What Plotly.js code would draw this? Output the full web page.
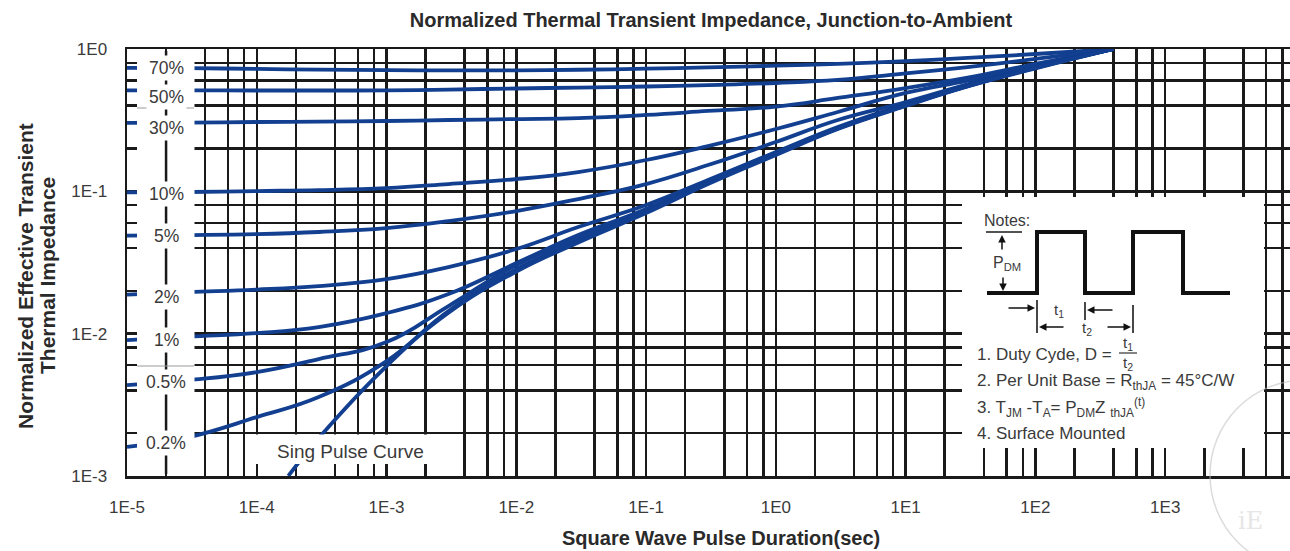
<!DOCTYPE html>
<html><head><meta charset="utf-8">
<script src="https://cdn.plot.ly/plotly-3.0.1.min.js"></script>
<style>html,body{margin:0;padding:0;overflow:hidden;background:#fff}#chart{width:1300px;height:551px}</style>
</head><body><div id="chart"></div><script>
// ---- data ----
const pulseTime = [1e-5,3e-5,1e-4,3e-4,1e-3,3e-3,1e-2,3e-2,1e-1,3e-1,1,3,10,30,100,400];
const duty70 = [0.738,0.733,0.725,0.716,0.710,0.707,0.708,0.715,0.727,0.743,0.763,0.785,0.823,0.865,0.922,1.0];
const duty50 = [0.512,0.512,0.511,0.511,0.512,0.519,0.528,0.536,0.545,0.558,0.577,0.606,0.673,0.747,0.851,1.0];
const duty30 = [0.303,0.304,0.307,0.309,0.312,0.317,0.322,0.327,0.344,0.367,0.394,0.453,0.532,0.630,0.785,1.0];
const duty10 = [0.0984,0.0989,0.1005,0.102,0.1054,0.1125,0.122,0.1367,0.166,0.208,0.274,0.361,0.491,0.600,0.760,1.0];
const duty5  = [0.0489,0.0493,0.0501,0.0518,0.0552,0.0618,0.0727,0.0883,0.1125,0.153,0.222,0.317,0.424,0.565,0.747,1.0];
const duty2  = [0.01883,0.0196,0.02041,0.0216,0.02419,0.02938,0.03931,0.05611,0.08012,0.1201,0.1889,0.283,0.4107,0.5585,0.747,1.0];
const duty1  = [0.009016,0.009541,0.0101,0.01113,0.01395,0.01898,0.03133,0.04931,0.07508,0.1181,0.1858,0.2785,0.4042,0.5495,0.7413,1.0];
const duty05 = [0.004353,0.004719,0.005372,0.006631,0.00873,0.01563,0.03034,0.04697,0.07271,0.1150,0.1840,0.2770,0.4020,0.5480,0.7390,1.0];
const duty02 = [0.001604,0.001877,0.002594,0.003584,0.006418,0.01442,0.02844,0.04473,0.07153,0.1144,0.1829,0.2763,0.4008,0.5495,0.7357,1.0];
const singleTime  = [1.75e-4,3e-4,1e-3,3e-3,1e-2,3e-2,1e-1,3e-1,1,3,10,30,100,400];
const singlePulse = [0.001,0.001846,0.00592,0.01402,0.02732,0.04374,0.07039,0.1125,0.18,0.2741,0.3976,0.5451,0.7295,1.0];
const dutySeries = [duty70,duty50,duty30,duty10,duty5,duty2,duty1,duty05,duty02];
const dutyLabels = ['70%','50%','30%','10%','5%','2%','1%','0.5%','0.2%'];
const xTickLabels = ['1E-5','1E-4','1E-3','1E-2','1E-1','1E0','1E1','1E2','1E3','1E4'];
const yTickLabels = ['1E-3','1E-2','1E-1','1E0'];
const gridMultipliers = [2,4,6,8];

// ---- layout helpers ----
const W = 1300, H = 551, ML = 127, MR = 5, MT = 49, MB = 75;
const PW = W - ML - MR, PH = H - MT - MB;
const PX = x => (x - ML) / PW;
const PY = y => (H - MB - y) / PH;
const xRange = [-5, 4], yRange = [-3, 0];
const BLUE = '#123f8f', INK = '#1a1a1a', TXT = '#3a3a3a';
const FONT = 'Liberation Sans, Arial, Helvetica, sans-serif';

const decades = (lo, hi) => { const v = []; for (let k = lo; k <= hi; k++) v.push(Math.pow(10, k)); return v; };
const minorVals = (lo, hi) => { const v = []; for (let k = lo; k < hi; k++) gridMultipliers.forEach(m => v.push(m * Math.pow(10, k))); return v; };

const traces = dutySeries.map((s, i) => ({
  x: pulseTime, y: s, type: 'scatter', mode: 'lines', name: dutyLabels[i],
  line: {color: BLUE, width: 3.8, shape: 'spline', smoothing: 1.25}, hoverinfo: 'none'
}));
traces.push({x: singleTime, y: singlePulse, type: 'scatter', mode: 'lines', name: 'Single Pulse',
  line: {color: BLUE, width: 3.8, shape: 'spline', smoothing: 1.25}, hoverinfo: 'none'});

const white = (x0, x1, y0, y1) => ({type: 'rect', xref: 'paper', yref: 'paper', layer: 'above',
  x0: PX(x0), x1: PX(x1), y0: PY(y1), y1: PY(y0), fillcolor: '#fff', line: {width: 0}});
const seg = (x0, y0, x1, y1, w, c) => ({type: 'line', xref: 'paper', yref: 'paper', layer: 'above',
  x0: PX(x0), y0: PY(y0), x1: PX(x1), y1: PY(y1), line: {color: c || INK, width: w}});

const colX = PX(ML + (Math.log10(2e-5) - xRange[0]) / (xRange[1] - xRange[0]) * PW);
const wave = [[987,293],[1037,293],[1037,232],[1085,232],[1085,293],[1133,293],[1133,232],[1183,232],[1183,293],[1230,293]];
const wavePath = wave.map((p, i) => (i ? 'L' : 'M') + PX(p[0]).toFixed(5) + ',' + PY(p[1]).toFixed(5)).join(' ');

const shapes = [
  white(137, 194.5, 51.5, 474),
  white(250, 443, 434.5, 464),
  white(962, 1264, 197, 448),
  {type: 'line', xref: 'paper', yref: 'paper', layer: 'above', x0: colX, x1: colX, y0: PY(474), y1: PY(51), line: {color: INK, width: 2.5}},
  seg(137, 108, 194, 108, 1, '#9a9a9a'),
  seg(137, 366, 194, 366, 1, '#9a9a9a'),
  {type: 'path', xref: 'paper', yref: 'paper', layer: 'above', path: wavePath, line: {color: '#111', width: 4}},
  seg(986, 232, 1022, 232, 1.6),
  seg(1037, 300, 1037, 333, 1.6),
  seg(1085, 302, 1085, 320, 1.6),
  seg(1133, 305, 1133, 333, 1.6),
  seg(1119, 353, 1137, 353, 1.2, '#333'),
  {type: 'circle', xref: 'paper', yref: 'paper', layer: 'above', x0: PX(1210), x1: PX(1400), y0: PY(570), y1: PY(380), line: {color: 'rgba(190,190,190,0.55)', width: 1.5}}
];

const labelY = [68, 96.7, 128, 194, 235.7, 296.7, 340, 381.7, 443.3];
const ann = [];
const txt = (x, y, t, o) => Object.assign({xref: 'paper', yref: 'paper', x: PX(x), y: PY(y), text: t, showarrow: false,
  xanchor: 'center', yanchor: 'middle', font: {size: 17, color: TXT, family: FONT}}, o || {});
dutyLabels.forEach((t, i) => ann.push(txt(ML + colX * PW, labelY[i], t,
  {bgcolor: '#fff', borderpad: 2, font: {size: 17.5, color: TXT, family: FONT}})));
ann.push(txt(350, 451, 'Sing Pulse Curve', {font: {size: 19, color: TXT, family: FONT}}));
ann.push(txt(1007, 220, 'Notes:', {font: {size: 16, color: TXT, family: FONT}}));
ann.push(txt(1007, 263, 'P<sub>DM</sub>', {font: {size: 16, color: TXT, family: FONT}}));
ann.push(txt(1059, 310, 't<sub>1</sub>', {font: {size: 15, color: TXT, family: FONT}}));
ann.push(txt(1087, 328, 't<sub>2</sub>', {font: {size: 15, color: TXT, family: FONT}}));
ann.push(txt(975, 354, '1. Duty Cyde, D =', {xanchor: 'left'}));
ann.push(txt(1128, 343, 't<sub>1</sub>', {font: {size: 15, color: TXT, family: FONT}}));
ann.push(txt(1128, 364, 't<sub>2</sub>', {font: {size: 15, color: TXT, family: FONT}}));
ann.push(txt(975, 382, '2. Per Unit Base = R<sub>thJA</sub> = 45°C/W', {xanchor: 'left'}));
ann.push(txt(975, 407, '3. T<sub>JM</sub> -T<sub>A</sub>= P<sub>DM</sub>Z <sub>thJA</sub><sup>(t)</sup>', {xanchor: 'left'}));
ann.push(txt(975, 433, '4. Surface Mounted', {xanchor: 'left'}));
const arrow = (x, y, ax, ay) => ({xref: 'paper', yref: 'paper', x: PX(x), y: PY(y), ax: ax, ay: ay, text: '',
  showarrow: true, arrowhead: 2, arrowsize: 1, arrowwidth: 1.5, arrowcolor: '#111', standoff: 0});
ann.push(arrow(1002, 235, 0, 16));
ann.push(arrow(1003, 291, 0, -15));
ann.push(arrow(1035, 308, -28, 0));
ann.push(arrow(1087, 310, 27, 0));
ann.push(arrow(1039, 327, 26, 0));
ann.push(arrow(1131, 327, -25, 0));
ann.push(txt(25, 276, '<b>Normalized Effective Transient</b>', {textangle: -90, font: {size: 21, color: '#2a2a2a', family: FONT}}));
ann.push(txt(47, 276, '<b>Thermal Impedance</b>', {textangle: -90, font: {size: 21, color: '#2a2a2a', family: FONT}}));
ann.push(txt(721, 538, '<b>Square Wave Pulse Duration(sec)</b>', {font: {size: 20, color: '#2a2a2a', family: FONT}}));
ann.push(txt(1250, 521, 'iE', {font: {size: 24, color: '#e6e6e6', family: 'DejaVu Serif, serif'}}));

const axisCommon = {type: 'log', showgrid: true, gridcolor: INK, gridwidth: 2.5, showline: true, linecolor: INK,
  linewidth: 2.5, mirror: true, zeroline: false, ticks: '', fixedrange: true,
  tickfont: {size: 17, color: TXT, family: FONT}};
const layout = {
  width: W, height: H, margin: {l: ML, r: MR, t: MT, b: MB, pad: 0},
  paper_bgcolor: '#fff', plot_bgcolor: '#fff', showlegend: false,
  font: {family: FONT, color: TXT},
  title: {text: '<b>Normalized Thermal Transient Impedance, Junction-to-Ambient</b>', font: {size: 20, color: '#2a2a2a', family: FONT},
    x: 0.5, xref: 'paper', y: 1 - 20 / H, yref: 'container', yanchor: 'middle'},
  xaxis: Object.assign({}, axisCommon, {range: xRange, tickvals: decades(-5, 4), ticktext: xTickLabels, ticklabelstandoff: 14,
    minor: {tickvals: minorVals(-5, 4), showgrid: true, gridcolor: INK, gridwidth: 2.5, ticks: ''}}),
  yaxis: Object.assign({}, axisCommon, {range: yRange, tickvals: decades(-3, 0), ticktext: yTickLabels, ticklabelstandoff: 14,
    minor: {tickvals: minorVals(-3, 0), showgrid: true, gridcolor: INK, gridwidth: 2.5, ticks: ''}}),
  shapes: shapes, annotations: ann
};
Plotly.newPlot('chart', traces, layout, {displayModeBar: false, staticPlot: true});
</script></body></html>
